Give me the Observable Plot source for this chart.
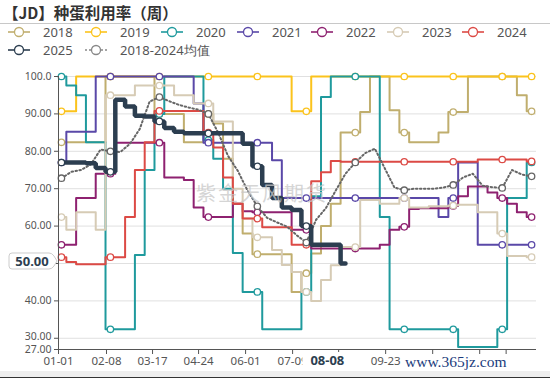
<!DOCTYPE html>
<html><head><meta charset="utf-8">
<script src="https://cdn.jsdelivr.net/npm/d3@7"></script>
<script src="https://cdn.jsdelivr.net/npm/@observablehq/plot@0.6"></script>
<style>
body{margin:0;width:550px;height:378px;overflow:hidden;background:#fff;font-family:"Noto Sans","Open Sans",sans-serif;position:relative}
#title{position:absolute;left:3px;top:1px;font-weight:bold;font-size:15.5px;font-family:"Noto Sans CJK SC",sans-serif;color:#333;white-space:nowrap}
#rule{position:absolute;left:0;top:23px;width:550px;height:1px;background:#c8c8c8}
.leg{position:absolute;display:flex;align-items:center;font-size:13px;color:#555;white-space:nowrap;height:16px;line-height:16px}
.leg svg{margin-right:13px}
#chart{position:absolute;left:0;top:60px}
#foot{position:absolute;left:0;top:371px;width:550px;height:6px;background:#eee;border-bottom:1px solid #333}
</style></head><body>
<div id="title">【JD】种蛋利用率（周）</div>
<div id="rule"></div>
<div id="legend"></div>
<div id="chart"></div>
<div id="foot"></div>
<script>
// ---- data ----
const yearNames = ["2018","2019","2020","2021","2022","2023","2024"];
const yearColors = ["#c0ae6e","#fbc31c","#1f9a9d","#5a48a8","#8e2170","#d6cbb5","#dc4a45"];
const s2018 = [82.4,82.4,82.4,82.4,82.4,100,100,100,100,100,90,90,90,82.4,82.4,90,87.4,78,66,58,52.5,52.5,52.5,52.5,42.4,47.4,52.7,60,66,85,85,90.5,100,100,91,85,82.4,82.4,82.4,85,90.5,90.5,100,100,100,100,100,95,90.7];
const s2019 = [90.7,90.7,100,100,100,100,100,100,100,100,100,100,100,100,100,100,100,100,100,100,100,100,100,100,90.7,90.7,100,100,100,100,100,100,100,100,100,100,100,100,100,100,100,100,100,100,100,100,100,100,100];
const s2020 = [100,97.6,95,82.4,82.4,32.4,32.4,32.4,52.3,75,90,100,100,100,100,83,78,70,52.8,42.4,42.4,32.4,32.4,32.4,32.4,42.4,68,94.5,100,100,100,100,100,62.4,32.4,32.4,32.4,32.4,32.4,32.4,32.4,27.7,27.7,27.7,27.7,32.4,67.5,67.5,77];
const s2021 = [77,85.2,85.2,85.2,100,100,100,100,100,100,100,100,100,100,92.8,82.3,82.3,82.3,82.3,82.3,82.3,82.3,77.6,67.5,67.5,67.5,67.5,67.5,67.5,67.5,67.5,67.5,67.5,67.5,67.5,67.5,67.5,67.5,67.5,62.4,67.5,77,77,55,55,55,55,55,55];
const s2022 = [55,55,67.5,67.5,74,74,82.3,82.3,82.3,82.3,82.3,73,73,72.3,65,62.4,62.4,62.4,66,64,63.7,63.7,63.7,63.7,59,59,54,54,54,54,54,54,54,55,59,59.8,64.6,64.8,64.8,64.8,65.4,68,70.6,70.6,69,67.5,66,63.7,62.4];
const s2023 = [62.4,59,63.7,63.7,59,95,95,95,97.6,97.6,97.6,97.6,95,95,92.8,92.8,88,88,70,62,57,57,53.6,49.6,47.7,42.4,40,45.6,49.5,54.4,54.4,67,67,66,66,67.5,65,65,65.3,65.3,65.5,65.7,65.7,63.7,63.7,58,52,52,51.7];
const s2024 = [51.7,50.4,49.8,49.8,49.8,51.7,51.7,62.4,75,82.4,90.8,90.8,90.8,90.8,90.8,85,81,73,66,62,62,59.7,59.7,59.7,55,55,72,74.4,77.4,77.2,77.2,77.2,77.2,77.2,77.2,77.2,77.2,77.2,77.2,77.2,77.2,77.2,77.2,77.8,77.8,77.8,77.8,77.8,77.3];
const s2025 = [77,77,77,76.8,75.5,74.5,93.8,92,89.5,89.3,88,86.2,85.2,84.8,84.8,84.8,84.8,84.8,84.8,82,76,71,67.5,65,64.3,60,55,55,55,50];
const sAvg = [72.8,74.5,75,76.5,80.5,80,79.8,82,86,93.3,94.5,93.4,92.4,91.7,91.1,90,85,78.8,74.8,69.5,65.3,62.2,61,59.9,57.6,55.6,61.7,64.8,69.5,74,77,79.5,80.7,75.5,70.3,69.6,70,70,70,70.3,71,73,74,70.8,70.4,70.2,75,73.8,73.3];
const yearValues = [s2018,s2019,s2020,s2021,s2022,s2023,s2024];
const name2025 = "2025", color2025 = "#2c3e50";
const nameAvg = "2018-2024均值", colorAvg = "#666";
const yTicks = [27,30,40,50,60,70,80,90,100];
const gridVals = [30,40,50,60,70,80,90,100];
const xTickPos = [-0.3,4.6,9.3,14,18.8,23.6,28.3,33.1,37.9,42.7,45.4];
const xTickLabels = ["01-01","02-08","03-17","04-24","06-01","07-09","","09-23","","",""];
const hoverY = 50, hoverYText = "50.00";
const hoverX = 27.2, hoverXText = "08-08";

// ---- legend ----
const legendItems = [
  [yearNames[0], yearColors[0], 8, 24, false],
  [yearNames[1], yearColors[1], 85, 24, false],
  [yearNames[2], yearColors[2], 161, 24, false],
  [yearNames[3], yearColors[3], 237, 24, false],
  [yearNames[4], yearColors[4], 311, 24, false],
  [yearNames[5], yearColors[5], 387, 24, false],
  [yearNames[6], yearColors[6], 462, 24, false],
  [name2025, color2025, 8, 42, false],
  [nameAvg, "#888", 85, 42, true]
];
const leg = document.getElementById("legend");
for (const [n, c, l, t, dash] of legendItems) {
  const d = document.createElement("div");
  d.className = "leg"; d.style.left = l + "px"; d.style.top = t + "px";
  d.innerHTML = `<svg width="22" height="12"><line x1="0" y1="6" x2="22" y2="6" stroke="${c}" stroke-width="1.6" ${dash ? 'stroke-dasharray="2,2"' : ''}/><circle cx="11" cy="6" r="4.5" fill="#fff" stroke="${c}" stroke-width="1.3"/></svg><span>${n}</span>`;
  leg.appendChild(d);
}

// ---- chart ----
const toRows = vals => vals.map((v, k) => ({k, v}));
const markerRows = (vals, withLast = true) => toRows(vals).filter(d => d.k % 5 === 0 || (withLast && d.k === vals.length - 1));
const labelMap = new Map(xTickPos.map((p, i) => [p, xTickLabels[i]]));
const yFmt = d => d === 100 ? "100.0" : d.toFixed(2);
const yLabelOpts = {x: -0.3, y: d => d, text: yFmt, textAnchor: "end", dx: -7, fontSize: 10.5, fill: "#555"};
const marks = [
  Plot.ruleY(gridVals, {x1: -0.3, x2: 48.5, stroke: "#e0e0e0", strokeWidth: 1})
];
yearValues.forEach((vals, i) => {
  marks.push(Plot.line(toRows(vals), {x: "k", y: "v", stroke: yearColors[i], strokeWidth: 2, curve: "step"}));
  marks.push(Plot.dot(markerRows(vals), {x: "k", y: "v", r: 3.2, fill: "#fff", stroke: yearColors[i], strokeWidth: 1.3}));
});
marks.push(Plot.line(toRows(sAvg), {x: "k", y: "v", stroke: colorAvg, strokeWidth: 2, strokeDasharray: "1.5,2.5", curve: "linear"}));
marks.push(Plot.dot(markerRows(sAvg), {x: "k", y: "v", r: 3.2, fill: "#fff", stroke: colorAvg, strokeWidth: 1.3}));
marks.push(Plot.line(toRows(s2025), {x: "k", y: "v", stroke: color2025, strokeWidth: 4.5, curve: "step", strokeLinejoin: "miter"}));
marks.push(Plot.dot(markerRows(s2025, false), {x: "k", y: "v", r: 3.2, fill: "#fff", stroke: color2025, strokeWidth: 1.3}));
marks.push(Plot.ruleY([27], {x1: -0.3, x2: 48.5, stroke: "#555"}));
marks.push(Plot.ruleX([-0.3], {y1: 27, y2: 100, stroke: "#555"}));
marks.push(Plot.axisY(yTicks, {tickSize: 4, label: null, tickFormat: () => ""}));
marks.push(Plot.text(yTicks.filter(d => d >= 40 && d !== hoverY), yLabelOpts));
marks.push(Plot.text([30], {...yLabelOpts, dy: -2}));
marks.push(Plot.text([27], {...yLabelOpts, dy: 0.5}));
marks.push(Plot.axisX(xTickPos, {tickSize: 5, tickPadding: 2, fontSize: 11.5, label: null,
  tickFormat: d => labelMap.get(d)}));

const plot = Plot.plot({
  width: 550, height: 318,
  marginLeft: 58, marginRight: 14, marginTop: 16, marginBottom: 29,
  x: {domain: [-0.3, 48.5]},
  y: {domain: [27, 100]},
  style: {color: "#555", fontFamily: "'Noto Sans','Open Sans',sans-serif", background: "transparent"},
  marks
});
document.getElementById("chart").appendChild(plot);

// ---- overlays using the plot's scales ----
const xs = plot.scale("x"), ys = plot.scale("y");
const svg = d3.select(plot);
svg.append("text").attr("x", 262).attr("y", 141).attr("text-anchor", "middle")
  .attr("font-size", 20).attr("font-family", "'Noto Sans CJK SC',sans-serif")
  .attr("fill", "#c8c8c8").attr("fill-opacity", 0.75).attr("letter-spacing", 2).text("紫金天风期货");
const cy = ys.apply(hoverY) - 2;
svg.append("path").attr("d", `M12,${cy-8} h37 q3,0 5,3 l3,5 l-3,5 q-2,3 -5,3 h-37 q-3,0 -3,-3 v-10 q0,-3 3,-3 z`)
  .attr("fill", "#fff").attr("stroke", "#ccc").attr("stroke-width", 1);
svg.append("text").attr("x", 32).attr("y", cy + 5).attr("text-anchor", "middle")
  .attr("font-size", 13).attr("font-weight", "bold").attr("fill", "#2c3e50").text(hoverYText);
const hx = xs.apply(hoverX), by = ys.apply(27);
svg.append("rect").attr("x", hx - 25).attr("y", by + 3).attr("width", 50).attr("height", 16).attr("fill", "#fff");
svg.append("text").attr("x", hx).attr("y", by + 16).attr("text-anchor", "middle")
  .attr("font-size", 13).attr("font-weight", "bold").attr("fill", "#2c3e50").text(hoverXText);
svg.append("text").attr("x", 405).attr("y", 307).attr("text-anchor", "start").attr("font-size", 15.5)
  .attr("font-family", "'Liberation Serif',serif").attr("fill", "#1b3c7d")
  .attr("stroke", "#fff").attr("stroke-width", 3).attr("paint-order", "stroke").text("www.365jz.com");
</script>
</body></html>
